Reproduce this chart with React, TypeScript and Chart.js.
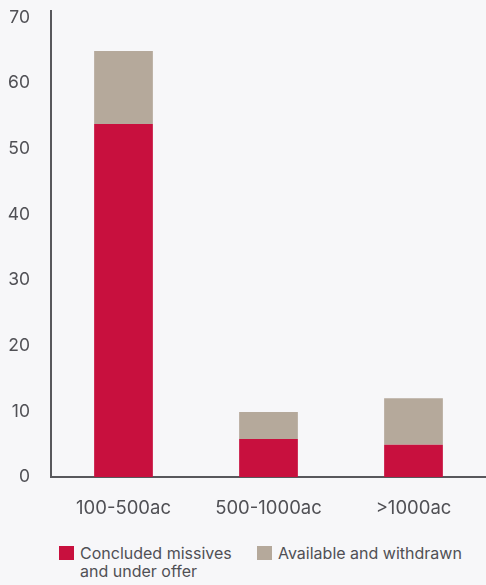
import React, { useEffect, useRef } from "react";
import { Chart, registerables } from "chart.js";

Chart.register(...registerables);

const categories = ["100-500ac", "500-1000ac", ">1000ac"];
const concluded = [53.8, 5.8, 4.9];
const available = [11.1, 4.1, 7.1];
const seriesLabels = ["Concluded missives\nand under offer", "Available and withdrawn"];
const yTicks = [0, 10, 20, 30, 40, 50, 60, 70];

const RED = "#c8103e";
const GRAY = "#b5a99b";
const BG = "#f7f7f9";
const TEXT = "#505055";
const FONT = "Inter, 'Open Sans', sans-serif";

export default function App() {
  const ref = useRef<HTMLCanvasElement | null>(null);

  useEffect(() => {
    document.body.style.margin = "0";
    document.body.style.background = BG;
    const ctx = ref.current!.getContext("2d")!;
    const chart = new Chart(ctx, {
      type: "bar",
      data: {
        labels: categories,
        datasets: [
          { label: seriesLabels[0], data: concluded, backgroundColor: RED, borderWidth: 0 },
          { label: seriesLabels[1], data: available, backgroundColor: GRAY, borderWidth: 0 },
        ],
      },
      options: {
        responsive: false,
        animation: false,
        maintainAspectRatio: false,
        layout: { padding: { top: 11, right: 0, left: 0, bottom: 0 } },
        plugins: { legend: { display: false }, tooltip: { enabled: false } },
        datasets: { bar: { categoryPercentage: 1, barPercentage: 0.405 } },
        scales: {
          x: {
            stacked: true,
            grid: { display: false, drawTicks: false },
            border: { display: true, color: "#58585c", width: 2 },
            ticks: { color: TEXT, font: { family: FONT, size: 18.5 }, padding: 20, maxRotation: 0 },
            afterFit: (s: any) => { s.height = 43; s.paddingLeft = 0; s.paddingRight = 0; },
          },
          y: {
            stacked: true,
            min: 0,
            max: 71,
            grid: { display: false, drawTicks: false },
            border: { display: true, color: "#58585c", width: 2 },
            afterBuildTicks: (s: any) => {
              s.ticks = yTicks.map((v) => ({ value: v }));
            },
            ticks: { color: TEXT, font: { family: FONT, size: 17.5 }, padding: 21 },
            afterFit: (s: any) => { s.width = 51; s.paddingTop = 0; s.paddingBottom = 0; },
          },
        },
      },
    });
    return () => chart.destroy();
  }, []);

  const sq = (c: string) => ({
    display: "inline-block",
    width: 15,
    height: 14,
    background: c,
    flex: "0 0 auto",
    marginTop: 2,
  });

  const row = { position: "absolute" as const, top: 544, display: "flex", gap: 6, color: TEXT, fontSize: 16, lineHeight: "18px" };

  return (
    <div style={{ position: "relative", width: 486, height: 585, background: BG, fontFamily: FONT }}>
      <canvas ref={ref} width={486} height={520} style={{ display: "block" }} />
      <div style={{ ...row, left: 59 }}>
        <span style={sq(RED)} />
        <span style={{ whiteSpace: "pre" }}>{seriesLabels[0]}</span>
      </div>
      <div style={{ ...row, left: 257 }}>
        <span style={sq(GRAY)} />
        <span style={{ whiteSpace: "pre" }}>{seriesLabels[1]}</span>
      </div>
    </div>
  );
}
